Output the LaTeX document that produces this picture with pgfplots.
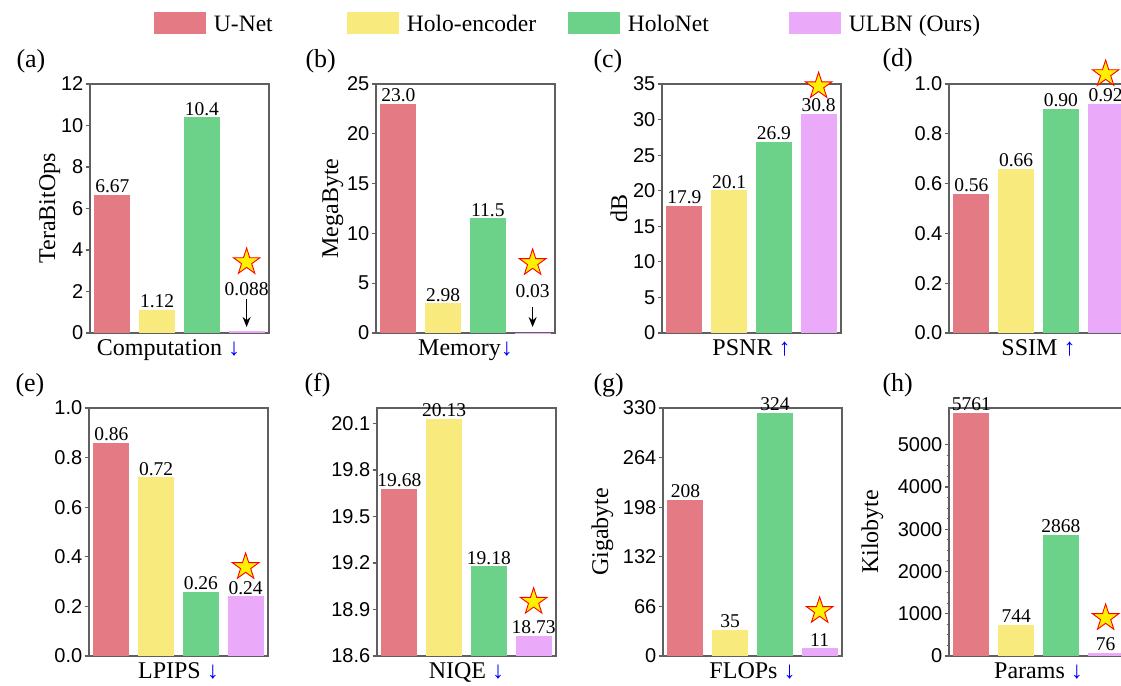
\documentclass[border=0pt]{standalone}
\usepackage{fontspec}
\setmainfont{Liberation Serif}
\newfontfamily\sansf{Liberation Sans}
\usepackage{pgfplots}
\pgfplotsset{compat=1.18}
\usetikzlibrary{arrows.meta}
\definecolor{cU}{RGB}{228,122,131}
\definecolor{cH}{RGB}{248,234,124}
\definecolor{cN}{RGB}{108,210,138}
\definecolor{cL}{RGB}{234,170,249}
\definecolor{axc}{RGB}{95,95,95}
\definecolor{staryel}{RGB}{255,240,0}
\pgfdeclareplotmark{fstar}{%
  \pgfpathmoveto{\pgfpointpolar{90}{\pgfplotmarksize}}%
  \pgfpathlineto{\pgfpointpolar{126}{0.382\pgfplotmarksize}}%
  \pgfpathlineto{\pgfpointpolar{162}{\pgfplotmarksize}}%
  \pgfpathlineto{\pgfpointpolar{198}{0.382\pgfplotmarksize}}%
  \pgfpathlineto{\pgfpointpolar{234}{\pgfplotmarksize}}%
  \pgfpathlineto{\pgfpointpolar{270}{0.382\pgfplotmarksize}}%
  \pgfpathlineto{\pgfpointpolar{306}{\pgfplotmarksize}}%
  \pgfpathlineto{\pgfpointpolar{342}{0.382\pgfplotmarksize}}%
  \pgfpathlineto{\pgfpointpolar{18}{\pgfplotmarksize}}%
  \pgfpathlineto{\pgfpointpolar{54}{0.382\pgfplotmarksize}}%
  \pgfpathclose
  \pgfusepathqfillstroke
}
\newcommand\valfont{\fontsize{19.5}{20}\selectfont}
\newcommand\labfont{\fontsize{24}{26}\selectfont}
\newcommand\letfont{\fontsize{26}{28}\selectfont}
\newcommand\dn{\textcolor{blue}{↓}}
\newcommand\up{\textcolor{blue}{↑}}
\pgfplotsset{
  panel/.style={
    scale only axis, width=179pt, height=249pt,
    anchor=south west, xmin=-0.5, xmax=3.5, ymin=0,
    xtick=\empty, ytick pos=left, tick align=outside,
    major tick length=4.5pt, minor tick length=2.5pt,
    axis line style={axc, line width=1.1pt},
    every tick/.style={axc, line width=1.1pt},
    clip=false,
    scaled y ticks=false,
    /pgf/number format/assume math mode=true,
    yticklabel style={font=\sansf\fontsize{20}{20}\selectfont, inner xsep=2pt, text=black},
    label style={font=\labfont},
    xlabel style={at={(axis description cs:0.5,0)}, anchor=base, yshift=-23pt},
    every node near coord/.append style={font=\valfont, inner sep=1.5pt, text=black},
  },
  ylab/.style={ylabel style={at={(axis description cs:#1,0.5)}, anchor=base}},
  bar/.style={ybar, bar width=0.8, bar shift=0pt, fill=#1, draw=none, mark=none, forget plot},
  bv/.style={bar=#1, nodes near coords, point meta=explicit symbolic},
  st/.style={only marks, mark=fstar, mark size=14pt, mark options={fill=staryel, draw=red, line width=0.9pt}, forget plot},
  oned/.style={yticklabel style={/pgf/number format/.cd, fixed, fixed zerofill, precision=1}},
}
\tikzset{darr/.style={-{Stealth[length=10pt,width=8pt]}, line width=1.7pt, black}}
\begin{document}
\begin{tikzpicture}
\path[use as bounding box] (0pt,0pt) rectangle (1121pt,685pt);
\clip (0pt,0pt) rectangle (1121pt,685pt);

% (a)
\begin{axis}[panel, at={(90pt,352pt)}, ymax=12, ytick={0,2,...,12},
  ylabel={TeraBitOps}, ylab=-0.1955, ylabel style={yshift=0pt},
  xlabel={Computation \dn}, xlabel style={xshift=-11pt},
  legend columns=4, legend cell align=left,
  legend image code/.code={\fill[#1, draw=none] (0pt,-11pt) rectangle (52pt,11pt);},
  legend style={at={(axis description cs:0.3575,1.245)}, anchor=west, draw=none, fill=none,
    inner sep=0pt, outer sep=0pt, font=\fontsize{23.5}{24}\selectfont,
    nodes={inner sep=0pt, text height=18pt, text depth=0pt},
    /tikz/every odd column/.style={column sep=8pt},
    /tikz/every even column/.style={column sep=0pt}},
  ]
\addlegendimage{fill=cU}\addlegendentry{\makebox[133pt][l]{U-Net}}
\addlegendimage{fill=cH}\addlegendentry{\makebox[161pt][l]{Holo-encoder}}
\addlegendimage{fill=cN}\addlegendentry{\makebox[161pt][l]{HoloNet}}
\addlegendimage{fill=cL}\addlegendentry{ULBN (Ours)}
\addplot[bv=cU] coordinates {(0,6.67) [6.67]};
\addplot[bv=cH] coordinates {(1,1.12) [1.12]};
\addplot[bv=cN] coordinates {(2,10.4) [10.4]};
\addplot[bar=cL] coordinates {(3,0.088)};
\addplot[st] coordinates {(3,3.42)};
\node[font=\valfont, anchor=base] at (axis cs:3,1.83) {0.088};
\draw[darr] (axis cs:3,1.64) -- (axis cs:3,0.29);
\end{axis}

% (b)
\begin{axis}[panel, at={(376pt,352pt)}, ymax=25, ytick={0,5,...,25},
  ylabel={MegaByte}, ylab=-0.2123, xlabel={Memory\dn}]
\addplot[bv=cU] coordinates {(0,23.0) [23.0]};
\addplot[bv=cH] coordinates {(1,2.98) [2.98]};
\addplot[bv=cN] coordinates {(2,11.5) [11.5]};
\addplot[bar=cL] coordinates {(3,0.03)};
\addplot[st] coordinates {(3,7.03)};
\node[font=\valfont, anchor=base] at (axis cs:3,3.61) {0.03};
\draw[darr] (axis cs:3,2.61) -- (axis cs:3,0.6);
\end{axis}

% (c)
\begin{axis}[panel, at={(662pt,352pt)}, ymax=35, ytick={0,5,...,35},
  ylabel={dB}, ylab=-0.1955, xlabel={PSNR \up}]
\addplot[bv=cU] coordinates {(0,17.9) [17.9]};
\addplot[bv=cH] coordinates {(1,20.1) [20.1]};
\addplot[bv=cN] coordinates {(2,26.9) [26.9]};
\addplot[bv=cL] coordinates {(3,30.8) [30.8]};
\addplot[st] coordinates {(3,34.7)};
\end{axis}

% (d)
\begin{axis}[panel, oned, at={(949pt,352pt)}, ymax=1, ytick={0,0.2,0.4,0.6,0.8,1},
  xlabel={SSIM \up}]
\addplot[bv=cU] coordinates {(0,0.56) [0.56]};
\addplot[bv=cH] coordinates {(1,0.66) [0.66]};
\addplot[bv=cN] coordinates {(2,0.90) [0.90]};
\addplot[bv=cL] coordinates {(3,0.92) [0.92]};
\addplot[st] coordinates {(3,1.04)};
\end{axis}

% (e)
\begin{axis}[panel, oned, height=248pt, at={(89pt,29pt)}, ymax=1, ytick={0,0.2,0.4,0.6,0.8,1},
  xlabel={LPIPS \dn}]
\addplot[bv=cU] coordinates {(0,0.86) [0.86]};
\addplot[bv=cH] coordinates {(1,0.72) [0.72]};
\addplot[bv=cN] coordinates {(2,0.26) [0.26]};
\addplot[bv=cL] coordinates {(3,0.24) [0.24]};
\addplot[st] coordinates {(3,0.359)};
\end{axis}

% (f)
\begin{axis}[panel, oned, height=248pt, at={(377pt,29pt)}, ymin=18.6, ymax=20.2,
  ytick={18.6,18.9,19.2,19.5,19.8,20.1}, clip=true,
  xlabel={NIQE \dn}]
\addplot[bv=cU] coordinates {(0,19.68) [19.68]};
\addplot[bv=cH] coordinates {(1,20.13) [20.13]};
\addplot[bv=cN] coordinates {(2,19.18) [19.18]};
\addplot[bv=cL] coordinates {(3,18.73) [18.73]};
\addplot[st] coordinates {(3,18.95)};
\end{axis}

% (g)
\begin{axis}[panel, height=248pt, at={(663pt,29pt)}, ymax=330, ytick={0,66,...,330},
  ylabel={Gigabyte}, ylab=-0.3073, xlabel={FLOPs \dn}]
\addplot[bv=cU] coordinates {(0,208) [208]};
\addplot[bv=cH] coordinates {(1,35) [35]};
\addplot[bv=cN] coordinates {(2,324) [324]};
\addplot[bv=cL] coordinates {(3,11) [11]};
\addplot[st] coordinates {(3,60)};
\end{axis}

% (h)
\begin{axis}[panel, height=248pt, at={(949pt,29pt)}, ymax=5870, ytick={0,1000,...,5000},
  minor tick num=3, yticklabel style={/pgf/number format/1000 sep={}},
  ylabel={Kilobyte}, ylab=-0.3966, xlabel={Params \dn}]
\addplot[bv=cU] coordinates {(0,5761) [5761]};
\addplot[bv=cH] coordinates {(1,744) [744]};
\addplot[bv=cN] coordinates {(2,2868) [2868]};
\addplot[bv=cL] coordinates {(3,76) [76]};
\addplot[st] coordinates {(3,900)};
\end{axis}

\node[anchor=base west, font=\letfont] at (13pt,617pt) {(a)};
\node[anchor=base west, font=\letfont] at (302pt,617pt) {(b)};
\node[anchor=base west, font=\letfont] at (590pt,617pt) {(c)};
\node[anchor=base west, font=\letfont] at (879pt,618pt) {(d)};
\node[anchor=base west, font=\letfont] at (12pt,293pt) {(e)};
\node[anchor=base west, font=\letfont] at (301pt,293pt) {(f)};
\node[anchor=base west, font=\letfont] at (590pt,293pt) {(g)};
\node[anchor=base west, font=\letfont] at (879pt,293pt) {(h)};
\end{tikzpicture}
\end{document}
